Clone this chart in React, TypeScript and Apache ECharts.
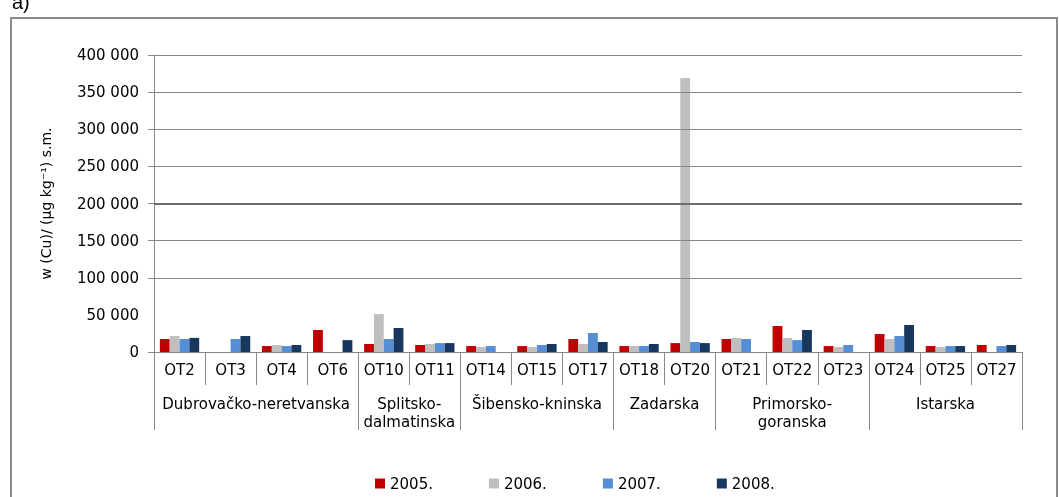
import React, { useEffect, useRef } from "react";
import * as echarts from "echarts";

const categories = ["OT2", "OT3", "OT4", "OT6", "OT10", "OT11", "OT14", "OT15", "OT17", "OT18", "OT20", "OT21", "OT22", "OT23", "OT24", "OT25", "OT27"];
const regions = ["Dubrovačko-neretvanska", "Splitsko-\ndalmatinska", "Šibensko-kninska", "Zadarska", "Primorsko-\ngoranska", "Istarska"];
const regionSizes = [4, 2, 3, 2, 3, 3];
const years = ["2005.", "2006.", "2007.", "2008."];
const v2005 = [17500, null, 8000, 29600, 10800, 9400, 8000, 8000, 17500, 8000, 12000, 17500, 35000, 8000, 24200, 8000, 9400];
const v2006 = [21500, null, 9400, null, 51000, 10800, 6700, 6700, 10800, 8000, 369000, 19000, 19000, 6700, 17500, 6700, null];
const v2007 = [17500, 17500, 8000, null, 17500, 12000, 8000, 9400, 25600, 8000, 13500, 17500, 16000, 9400, 21500, 8000, 8000];
const v2008 = [19000, 21500, 9400, 16000, 32300, 12000, null, 10800, 13500, 10800, 12000, null, 29600, null, 36400, 8000, 9400];
const yTickValues = [0, 100000, 150000, 200000, 250000, 300000, 350000, 400000];
const gridValues = [100000, 150000, 200000, 250000, 300000, 350000, 400000];
const yAxisTitle = "w (Cu)/ (µg kg⁻¹) s.m.";

const colors = ["#C00000", "#BFBFBF", "#558ED5", "#17375E"];
const FONT = "DejaVu Sans";

function fmt(v: number) {
  return String(v).replace(/\B(?=(\d{3})+(?!\d))/g, " ");
}

export default function App() {
  const ref = useRef<HTMLDivElement>(null);
  useEffect(() => {
    if (!ref.current) return;
    const chart = echarts.init(ref.current, null, { renderer: "svg" });

    const bounds: number[] = [0];
    regionSizes.forEach((s) => bounds.push(bounds[bounds.length - 1] + s));
    const centers = regionSizes.map((s, i) => bounds[i] + s / 2);

    const seriesData = [v2005, v2006, v2007, v2008];

    chart.setOption({
      animation: false,
      color: colors,
      textStyle: { fontFamily: FONT },
      graphic: [
        {
          type: "rect",
          shape: { x: 11, y: 18, width: 1046, height: 500 },
          style: { fill: "none", stroke: "#8a8a8a", lineWidth: 2 },
          silent: true,
        },
        {
          type: "text",
          x: 12,
          y: -8,
          style: { text: "a)", font: "20px 'Liberation Sans'", fill: "#000" },
          silent: true,
        },
      ],
      grid: { left: 154, top: 55, right: 37, bottom: 145, containLabel: false },
      legend: {
        data: years,
        left: 370,
        top: 471,
        itemWidth: 10,
        itemHeight: 10,
        itemGap: 56,
        icon: "rect",
        textStyle: { fontFamily: FONT, fontSize: 15, color: "#000" },
      },
      xAxis: [
        {
          type: "category",
          data: categories,
          position: "bottom",
          axisLine: { show: true, lineStyle: { color: "#888", width: 1 } },
          axisTick: { show: true, alignWithLabel: false, length: 33, interval: 0, lineStyle: { color: "#888" } },
          axisLabel: { interval: 0, margin: 10, fontFamily: FONT, fontSize: 15, color: "#000" },
          splitLine: { show: false },
        },
        {
          type: "value",
          min: 0,
          max: bounds[bounds.length - 1],
          position: "bottom",
          offset: 33,
          axisLine: { show: false },
          axisTick: { show: true, length: 45, customValues: bounds, lineStyle: { color: "#888" } },
          axisLabel: {
            customValues: centers,
            margin: 10,
            fontFamily: FONT,
            fontSize: 15,
            lineHeight: 18,
            color: "#000",
            formatter: (v: number) => {
              const i = centers.findIndex((c) => Math.abs(c - v) < 1e-6);
              return i >= 0 ? regions[i] : "";
            },
          },
          splitLine: { show: false },
        },
      ],
      yAxis: {
        type: "value",
        min: 0,
        max: 400000,
        interval: 50000,
        name: yAxisTitle,
        nameLocation: "middle",
        nameGap: 101,
        nameRotate: 90,
        nameTextStyle: { fontFamily: FONT, fontSize: 14, color: "#000" },
        axisLine: { show: true, lineStyle: { color: "#888", width: 1 } },
        axisTick: { show: true, length: 6, customValues: yTickValues, lineStyle: { color: "#888" } },
        axisLabel: { margin: 15, fontFamily: FONT, fontSize: 15, color: "#000", formatter: (v: number) => fmt(v) },
        splitLine: { show: false },
      },
      series: [
        {
          type: "line",
          name: "grid",
          data: [],
          z: 1,
          silent: true,
          markLine: {
            silent: true,
            symbol: ["none", "none"],
            label: { show: false },
            data: gridValues.map((g) => ({
              yAxis: g,
              lineStyle: { color: g === 200000 ? "#6e6e6e" : "#868686", width: g === 200000 ? 2 : 1, type: "solid" },
            })),
          },
        },
        ...years.map((y, i) => ({
          type: "bar",
          name: y,
          data: seriesData[i],
          z: 2,
          barGap: "0%",
          barCategoryGap: "23%",
          itemStyle: { color: colors[i] },
        })),
      ],
    });
    return () => chart.dispose();
  }, []);
  return <div ref={ref} style={{ position: "fixed", left: 0, top: 0, width: 1059, height: 497 }} />;
}
